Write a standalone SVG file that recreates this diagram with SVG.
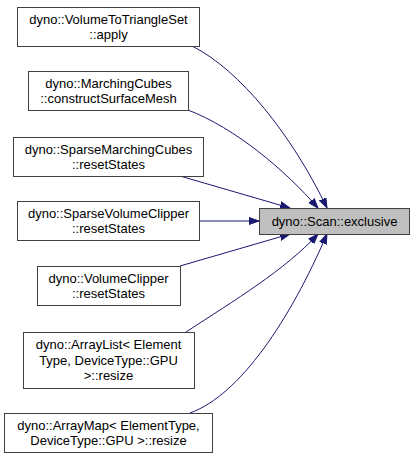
<svg xmlns="http://www.w3.org/2000/svg" width="415" height="460" viewBox="0 0 415 460">
<style>
.node rect{fill:#ffffff;stroke:#404040;stroke-width:1}
.node.cur rect{fill:#bfbfbf}
.node text{font-family:"Liberation Sans",Arial,sans-serif;font-size:13px;fill:#000000;text-anchor:middle}
.edge{fill:none;stroke:#191970;stroke-width:1;marker-end:url(#arr)}
</style>
<defs>
<marker id="arr" markerWidth="11" markerHeight="8" refX="10" refY="4" orient="auto" markerUnits="userSpaceOnUse">
<path d="M0,0.5 L10,4 L0,7.5 z" fill="#191970" stroke="#191970" stroke-width="1"/>
</marker>
</defs>
<rect width="415" height="460" fill="#ffffff"/>
<g id="edges">
<path class="edge" d="M192,46 C240,70 292,135 327,208"/>
<path class="edge" d="M188,110 C235,128 285,170 318,208"/>
<path class="edge" d="M180,176 L290,208"/>
<path class="edge" d="M199,221 L259,221"/>
<path class="edge" d="M180,266 L290,234"/>
<path class="edge" d="M186,332 C235,300 285,270 318,234"/>
<path class="edge" d="M190,413 C240,395 290,320 327,234"/>
</g>
<g id="n0" class="node cur">
<rect x="259.5" y="208.5" width="150" height="26"/>
<text x="334.5" y="226">dyno::Scan::exclusive</text>
</g>
<g id="n1" class="node">
<rect x="17.5" y="7.5" width="182" height="39"/>
<text x="108.5" y="24">dyno::VolumeToTriangleSet</text>
<text x="108.5" y="39">::apply</text>
</g>
<g id="n2" class="node">
<rect x="28.5" y="71.5" width="160" height="39"/>
<text x="108.5" y="88">dyno::MarchingCubes</text>
<text x="108.5" y="103">::constructSurfaceMesh</text>
</g>
<g id="n3" class="node">
<rect x="13.5" y="137.5" width="190" height="39"/>
<text x="108.5" y="154">dyno::SparseMarchingCubes</text>
<text x="108.5" y="169">::resetStates</text>
</g>
<g id="n4" class="node">
<rect x="17.5" y="201.5" width="182" height="39"/>
<text x="108.5" y="218">dyno::SparseVolumeClipper</text>
<text x="108.5" y="233">::resetStates</text>
</g>
<g id="n5" class="node">
<rect x="37.5" y="266.5" width="143" height="39"/>
<text x="108.5" y="283">dyno::VolumeClipper</text>
<text x="108.5" y="298">::resetStates</text>
</g>
<g id="n6" class="node">
<rect x="23.5" y="332.5" width="171" height="56"/>
<text x="108.5" y="349">dyno::ArrayList&lt; Element</text>
<text x="108.5" y="365">Type, DeviceType::GPU</text>
<text x="108.5" y="380">&gt;::resize</text>
</g>
<g id="n7" class="node">
<rect x="4.5" y="413.5" width="208" height="39"/>
<text x="108.5" y="430">dyno::ArrayMap&lt; ElementType,</text>
<text x="108.5" y="445">DeviceType::GPU &gt;::resize</text>
</g>
</svg>
